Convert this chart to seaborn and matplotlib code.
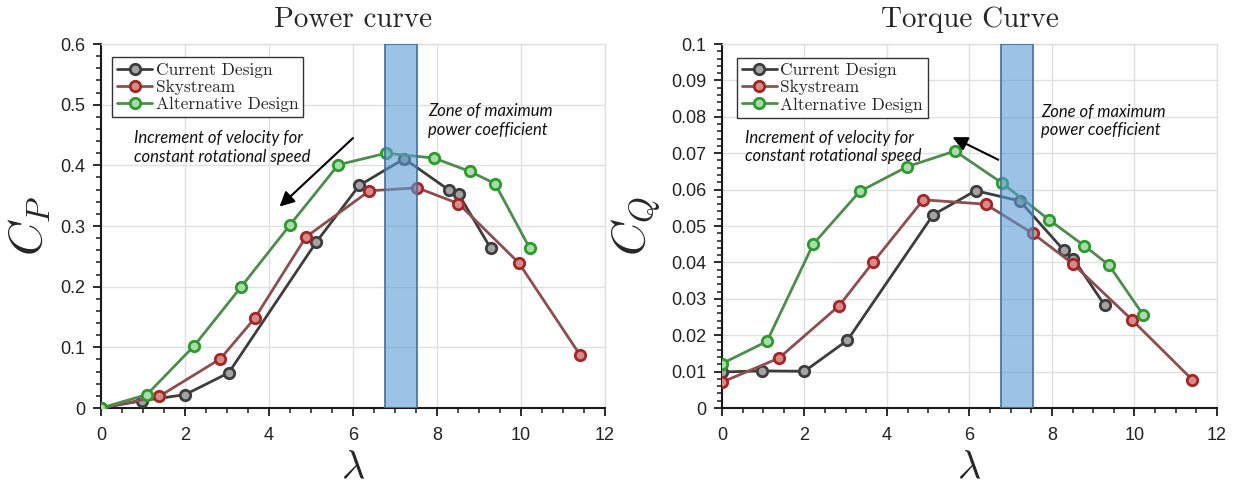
import numpy as np
import pandas as pd
import matplotlib
matplotlib.use("Agg")
import matplotlib.pyplot as plt
from matplotlib.ticker import MultipleLocator
import seaborn as sns

# Tip-speed ratio and coefficients for each rotor design
designs = ["Current Design", "Skystream", "Alternative Design"]

lam_current = [0, 0.97, 2.0, 3.04, 5.12, 6.15, 7.22, 8.29, 8.52, 9.28]
cp_current = [0, 0.012, 0.022, 0.058, 0.273, 0.367, 0.411, 0.359, 0.352, 0.263]
cq_current = [0.0099, 0.0102, 0.0101, 0.0186, 0.0531, 0.0597, 0.0569, 0.0433, 0.0410, 0.0282]

lam_sky = [0, 1.38, 2.84, 3.66, 4.88, 6.39, 7.53, 8.51, 9.95, 11.4]
cp_sky = [0, 0.019, 0.081, 0.148, 0.282, 0.358, 0.363, 0.337, 0.239, 0.088]
cq_sky = [0.0071, 0.0137, 0.0281, 0.0400, 0.0572, 0.0560, 0.0480, 0.0396, 0.0241, 0.0078]

lam_alt = [0, 1.09, 2.21, 3.34, 4.49, 5.65, 6.79, 7.93, 8.78, 9.38, 10.21]
cp_alt = [0, 0.022, 0.102, 0.200, 0.301, 0.401, 0.420, 0.412, 0.390, 0.370, 0.263]
cq_alt = [0.0122, 0.0183, 0.0450, 0.0595, 0.0663, 0.0706, 0.0618, 0.0517, 0.0446, 0.0393, 0.0256]

# Zone of maximum power coefficient (lambda range)
zone = (6.77, 7.53)

styles = {
    "Current Design": dict(color="#3d3d3d", mfc="#a3a3a3", mec="#3d3d3d"),
    "Skystream": dict(color="#8c4e4e", mfc="#d68a8a", mec="#a32626"),
    "Alternative Design": dict(color="#4d8c4d", mfc="#a9dca9", mec="#2c9a2c"),
}

frames = []
for name, lam, cp, cq in [
    ("Current Design", lam_current, cp_current, cq_current),
    ("Skystream", lam_sky, cp_sky, cq_sky),
    ("Alternative Design", lam_alt, cp_alt, cq_alt),
]:
    frames.append(pd.DataFrame({"design": name, "lam": lam, "cp": cp, "cq": cq}))
df = pd.concat(frames, ignore_index=True)

sns.set_style("white")
plt.rcParams["font.family"] = ["Liberation Sans", "DejaVu Sans"]
plt.rcParams["mathtext.fontset"] = "cm"

fig = plt.figure(figsize=(12.35, 4.88), dpi=100)
ax1 = fig.add_axes([0.0818, 0.1639, 0.4081, 0.7459])
ax2 = fig.add_axes([0.5846, 0.1639, 0.4008, 0.7459])

serif = "cmr10"
grid_col = "#e0e0e0"


def draw(ax, ycol, ymax, ymajor, yminor, ylabel, title, legend_anchor):
    for name in designs:
        s = styles[name]
        sub = df[df["design"] == name]
        sns.lineplot(
            data=sub, x="lam", y=ycol, ax=ax, label=name,
            color=s["color"], linewidth=2.0, marker="o", markersize=7.5,
            markerfacecolor=s["mfc"], markeredgecolor=s["mec"],
            markeredgewidth=2.0, estimator=None, sort=False, zorder=3,
        )
    ax.axvspan(zone[0], zone[1], facecolor=(0.357, 0.608, 0.835, 0.6),
               edgecolor="#3f6f9e", linewidth=1.2, zorder=4)

    ax.set_xlim(0, 12)
    ax.set_ylim(0, ymax)
    ax.xaxis.set_major_locator(MultipleLocator(2))
    ax.xaxis.set_minor_locator(MultipleLocator(0.5))
    ax.yaxis.set_major_locator(MultipleLocator(ymajor))
    ax.yaxis.set_minor_locator(MultipleLocator(yminor))
    ax.grid(True, which="major", color=grid_col, linewidth=1.0, zorder=0)
    ax.set_axisbelow(True)

    for side in ("top", "right"):
        ax.spines[side].set_color(grid_col)
        ax.spines[side].set_linewidth(1.0)
    for side in ("bottom", "left"):
        ax.spines[side].set_color("#1a1a1a")
        ax.spines[side].set_linewidth(1.5)

    ax.tick_params(which="major", direction="out", length=6, width=1.3,
                   color="#1a1a1a", labelsize=13, labelcolor="#222222",
                   bottom=True, left=True)
    ax.tick_params(axis="x", which="major", pad=8)
    ax.tick_params(axis="y", which="major", pad=5)
    ax.tick_params(which="minor", direction="out", length=3.5, width=1.1,
                   color="#1a1a1a", bottom=True, left=True)

    ax.set_xlabel(r"$\lambda$", fontsize=29, labelpad=3)
    ax.set_ylabel(ylabel, fontsize=34, labelpad=6)
    ax.set_title(title, fontfamily=serif, fontsize=21, pad=12)

    leg = ax.legend(loc="upper left", bbox_to_anchor=legend_anchor,
                    prop={"family": serif, "size": 12.5}, frameon=True,
                    fancybox=False, edgecolor="#333333", framealpha=1,
                    handlelength=2.0, handletextpad=0.2, labelspacing=0.1,
                    borderpad=0.3, borderaxespad=0)
    leg.get_frame().set_linewidth(1.0)
    leg.set_zorder(6)


draw(ax1, "cp", 0.6, 0.1, 0.02, r"$C_P$", "Power curve", (0.022, 0.964))
draw(ax2, "cq", 0.1, 0.01, 0.002, r"$C_Q$", "Torque Curve", (0.030, 0.962))

ax1.set_yticks(np.arange(0, 0.61, 0.1))
ax1.set_yticklabels(["0", "0.1", "0.2", "0.3", "0.4", "0.5", "0.6"])
ax2.set_yticks(np.arange(0, 0.101, 0.01))
ax2.set_yticklabels(["0", "0.01", "0.02", "0.03", "0.04", "0.05", "0.06",
                     "0.07", "0.08", "0.09", "0.1"])

note_font = dict(family="Lato", style="italic", fontsize=12, color="#111111",
                 va="top", ha="left", linespacing=1.2, zorder=7)

ax1.text(0.79, 0.458, "Increment of velocity for\nconstant rotational speed", **note_font)
ax1.text(7.79, 0.502, "Zone of maximum\npower coefficient", **note_font)
ax2.text(0.57, 0.0765, "Increment of velocity for\nconstant rotational speed", **note_font)
ax2.text(7.74, 0.0836, "Zone of maximum\npower coefficient", **note_font)

arrow = dict(arrowstyle="-|>", color="black", lw=1.5, mutation_scale=22,
             shrinkA=0, shrinkB=0)
ax1.annotate("", xy=(4.25, 0.332), xytext=(6.0, 0.445), arrowprops=arrow, zorder=7)
ax2.annotate("", xy=(5.59, 0.0744), xytext=(6.7, 0.0682), arrowprops=arrow, zorder=7)

fig.savefig("out.png", dpi=100)
